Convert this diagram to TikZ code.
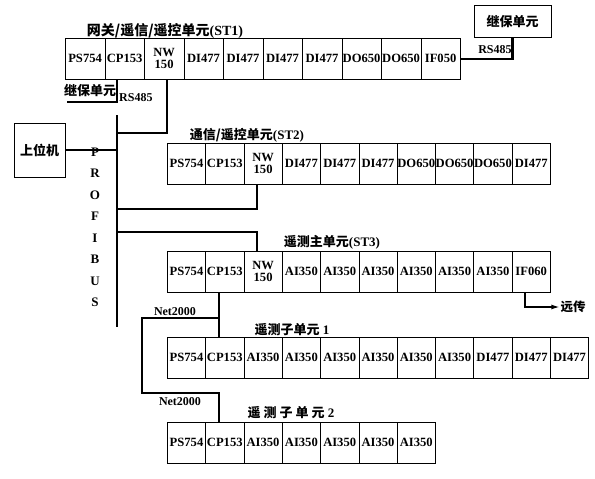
\documentclass[tikz,border=0pt]{standalone}
\usepackage{fontspec}
\setmainfont{Liberation Serif}
\newfontfamily\cjk{Noto Sans CJK SC}
\usetikzlibrary{arrows.meta,positioning,calc}
\tikzset{
  cell/.style  = {draw, line width=0.7pt, anchor=north west, align=center,
                  minimum width=38.3pt, minimum height=41pt, inner sep=0pt,
                  font=\bfseries\fontsize{12.6}{12}\selectfont},
  wide/.style  = {cell, minimum width=39.5pt},
  unit/.style  = {draw, line width=0.8pt, inner sep=0pt,
                  font=\cjk\bfseries\fontsize{13}{13}\selectfont},
  tag/.style   = {inner sep=0pt, font=\cjk\bfseries\fontsize{13}{13}\selectfont},
  lbl/.style   = {inner sep=0pt, font=\bfseries\fontsize{12}{12}\selectfont},
  link/.style  = {line width=2.4pt},
}
\newcommand\nwtxt{\fontsize{12.5}{10}\selectfont NW\\150}

\begin{document}
\begin{tikzpicture}[x=1pt, y=-1pt]
  \useasboundingbox (0,0) rectangle (595,479);
  % racks
  \foreach \m [count=\i] in {PS754,CP153,\nwtxt,DI477,DI477,DI477,DI477,DO650,DO650,IF050}
    \node[wide] (a\i) at (65+39.5*\i-39.5,38) {\m};
  \foreach \m [count=\i] in {PS754,CP153,\nwtxt,DI477,DI477,DI477,DO650,DO650,DO650,DI477}
    \node[cell] (b\i) at (167+38.3*\i-38.3,143) {\m};
  \foreach \m [count=\i] in {PS754,CP153,\nwtxt,AI350,AI350,AI350,AI350,AI350,AI350,IF060}
    \node[cell] (c\i) at (167+38.3*\i-38.3,251) {\m};
  \foreach \m [count=\i] in {PS754,CP153,AI350,AI350,AI350,AI350,AI350,AI350,DI477,DI477,DI477}
    \node[cell] (d\i) at (167+38.3*\i-38.3,337) {\m};
  \foreach \m [count=\i] in {PS754,CP153,AI350,AI350,AI350,AI350,AI350}
    \node[cell] (e\i) at (167+38.3*\i-38.3,422) {\m};
  % titles
  \node[tag, font=\cjk\bfseries\fontsize{14}{14}\selectfont] (t1) at (165,31)
    {网关/遥信/遥控单元{\rmfamily(ST1)}};
  \node[tag] (t2) at (247,135) {通信/遥控单元{\rmfamily(ST2)}};
  \node[tag] (t3) at (332,242) {遥测主单元{\rmfamily(ST3)}};
  \node[tag] (t4) at (292,330) {遥测子单元{\rmfamily\ 1}};
  \node[tag] (t5) at (291,413) {遥 测 子 单 元{\rmfamily\ 2}};
  % units
  \node[unit, minimum width=51pt, minimum height=54pt] (host) at (39.5,150) {上位机};
  \node[unit, minimum width=77pt, minimum height=32pt] (relay) at (512.5,21) {继保单元};
  \node[tag] (relay2) at (90,90) {继保单元};
  \node[lbl, anchor=west] (rs1) at (119,98) {RS485};
  \node[lbl] (rs2) at (495,50) {RS485};
  \node[tag, font=\cjk\bfseries\fontsize{12.5}{12.5}\selectfont] (far) at (573,307) {远传};
  \node[lbl] (net1) at (175,312) {Net2000};
  \node[lbl] (net2) at (180,402) {Net2000};
  \foreach \ch [count=\k] in {P,R,O,F,I,B,U,S}
    \node[lbl, font=\bfseries\fontsize{13}{13}\selectfont] (p\k) at (95,130.5+21.5*\k) {\ch};
  % bus points
  \coordinate (bt) at (117,115);
  \coordinate (bb) at (117,327);
  \coordinate (rsl) at (67,102);
  \coordinate (j1) at (117,133);
  \coordinate (j2) at (117,209);
  \coordinate (j3) at (117,232);
  \coordinate (n1) at (218,318);
  \coordinate (nl) at (142,393);
  % links
  \draw[link] (bt) -- (bb);
  \draw[link] (a2.south -| bt) |- (rsl);
  \draw[link] (host.east) -- (host.east -| bt);
  \draw[link] ([xshift=3pt]a3.south) |- (j1);
  \draw[link] (a10.east) -| (relay.south);
  \draw[link] ([xshift=-6pt]b3.south) |- (j2);
  \draw[link] (j3) -| ([xshift=-6pt]c3.north);
  \draw[link, -{Latex[length=9pt,width=5pt]}] ([xshift=-6pt]c10.south) |- (far.west);
  \draw[link] ([xshift=-6pt]c2.south) -- ([xshift=-6pt]d2.north);
  \draw[link] (n1) -| (nl) -| ([xshift=-6pt]e2.north);
\end{tikzpicture}
\end{document}
